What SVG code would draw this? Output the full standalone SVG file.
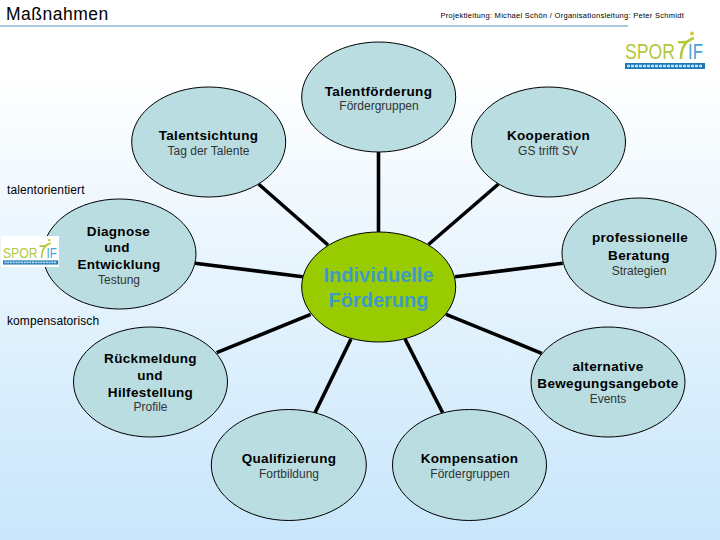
<svg xmlns="http://www.w3.org/2000/svg" width="720" height="540" viewBox="0 0 720 540">
<style>
text{font-family:"Liberation Sans",Arial,sans-serif;fill:#000;text-anchor:middle}
.n{fill:#b9dde1;stroke:#000;stroke-width:1}
.h{font-weight:bold;font-size:13.5px;letter-spacing:.33px}
.s{font-size:12px;fill:#333}
.l{font-size:12px;text-anchor:start;letter-spacing:.1px}
.c line{stroke:#000;stroke-width:3.6}
.m{font-size:20px;font-weight:bold;fill:#3f9bc6}
</style>
<defs>
<linearGradient id="bg" x1="0" y1="0" x2="0" y2="1"><stop offset=".13" stop-color="#fff"/><stop offset="1" stop-color="#c8e6fb"/></linearGradient>
<g id="logo">
<text x="0" y="27" textLength="50" lengthAdjust="spacingAndGlyphs" style="font-size:22px;text-anchor:start;fill:#b3c93c">SPOR</text>
<path d="M56 27C56 17 59 9 69 6M53 10C58 11 62 10 66 8" fill="none" stroke="#b3c93c" stroke-width="2.5"/>
<circle cx="67" cy="1.5" r="2" fill="#d8c83c"/>
<text x="63" y="27" textLength="15" lengthAdjust="spacingAndGlyphs" style="font-size:22px;text-anchor:start;fill:#4aa3cf">IF</text>
<rect x="0" y="31" width="80" height="6" fill="#1f78b4"/>
<line x1="2" y1="34" x2="78" y2="34" stroke="#bfe0f2" stroke-width="2.5" stroke-dasharray="3 1"/>
</g>
</defs>
<rect width="720" height="540" fill="url(#bg)"/>
<g id="header">
<text x="6" y="20" style="font-size:17.5px;text-anchor:start;letter-spacing:.5px">Maßnahmen</text>
<text x="684" y="18" style="font-size:7.5px;text-anchor:end;letter-spacing:.28px">Projektleitung: Michael Schön / Organisationsleitung: Peter Schmidt</text>
<line x1="0" y1="26" x2="628" y2="26" stroke="#4f97b8" stroke-width="1"/>
</g>
<g id="connectors" class="c">
<line x1="378.5" y1="152" x2="378.5" y2="232"/>
<line x1="258.5" y1="184" x2="328" y2="245"/>
<line x1="498.5" y1="184" x2="428.5" y2="244.5"/>
<line x1="562.7" y1="263.3" x2="455" y2="276.7"/>
<line x1="195" y1="263.3" x2="302.7" y2="276.7"/>
<line x1="216.7" y1="352.7" x2="310.7" y2="314.3"/>
<line x1="541.7" y1="353.3" x2="446" y2="314.3"/>
<line x1="315" y1="412.7" x2="351" y2="339"/>
<line x1="442.7" y1="412.7" x2="405" y2="339"/>
</g>
<g id="n-talentfoerderung"><ellipse class="n" cx="378.7" cy="97" rx="77" ry="55"/><text class="h" x="378.5" y="96">Talentförderung</text><text class="s" x="379" y="110">Fördergruppen</text></g>
<g id="n-talentsichtung"><ellipse class="n" cx="208.7" cy="142" rx="77" ry="55"/><text class="h" x="208.5" y="140">Talentsichtung</text><text class="s" x="208.5" y="155">Tag der Talente</text></g>
<g id="n-kooperation"><ellipse class="n" cx="548.5" cy="142" rx="77" ry="55"/><text class="h" x="548.5" y="140">Kooperation</text><text class="s" x="548" y="155">GS trifft SV</text></g>
<g id="n-diagnose"><ellipse class="n" cx="119.5" cy="254" rx="76.5" ry="55"/><text class="h" x="118.5" y="236">Diagnose</text><text class="h" x="117" y="252">und</text><text class="h" x="119" y="269">Entwicklung</text><text class="s" x="119" y="284">Testung</text></g>
<g id="n-beratung"><ellipse class="n" cx="639" cy="253" rx="77" ry="55"/><text class="h" x="640" y="242">professionelle</text><text class="h" x="639" y="260">Beratung</text><text class="s" x="639" y="275">Strategien</text></g>
<g id="n-rueckmeldung"><ellipse class="n" cx="150.5" cy="382" rx="77" ry="55"/><text class="h" x="150.5" y="363">Rückmeldung</text><text class="h" x="150" y="380">und</text><text class="h" x="150.5" y="397">Hilfestellung</text><text class="s" x="150.5" y="411">Profile</text></g>
<g id="n-alternative"><ellipse class="n" cx="608" cy="382" rx="77" ry="55"/><text class="h" x="608" y="371">alternative</text><text class="h" x="608" y="388">Bewegungsangebote</text><text class="s" x="608" y="403">Events</text></g>
<g id="n-qualifizierung"><ellipse class="n" cx="288.8" cy="465" rx="77.5" ry="55.5"/><text class="h" x="289" y="463">Qualifizierung</text><text class="s" x="289" y="478">Fortbildung</text></g>
<g id="n-kompensation"><ellipse class="n" cx="469.5" cy="465" rx="77" ry="55.5"/><text class="h" x="469.5" y="463">Kompensation</text><text class="s" x="470" y="478">Fördergruppen</text></g>
<g id="n-center"><ellipse cx="378.7" cy="287" rx="77" ry="55" fill="#99cc00" stroke="#000" stroke-width="1"/><text class="m" x="378.5" y="282">Individuelle</text><text class="m" x="378.5" y="307">Förderung</text></g>
<text class="l" x="7" y="194">talentorientiert</text>
<text class="l" x="7" y="325">kompensatorisch</text>
<g id="logo-top"><use href="#logo" transform="translate(625 32)"/></g>
<g id="logo-left"><rect x="1" y="236" width="58" height="31" fill="#fff"/><use href="#logo" transform="translate(3 239) scale(.69)"/></g>
</svg>
